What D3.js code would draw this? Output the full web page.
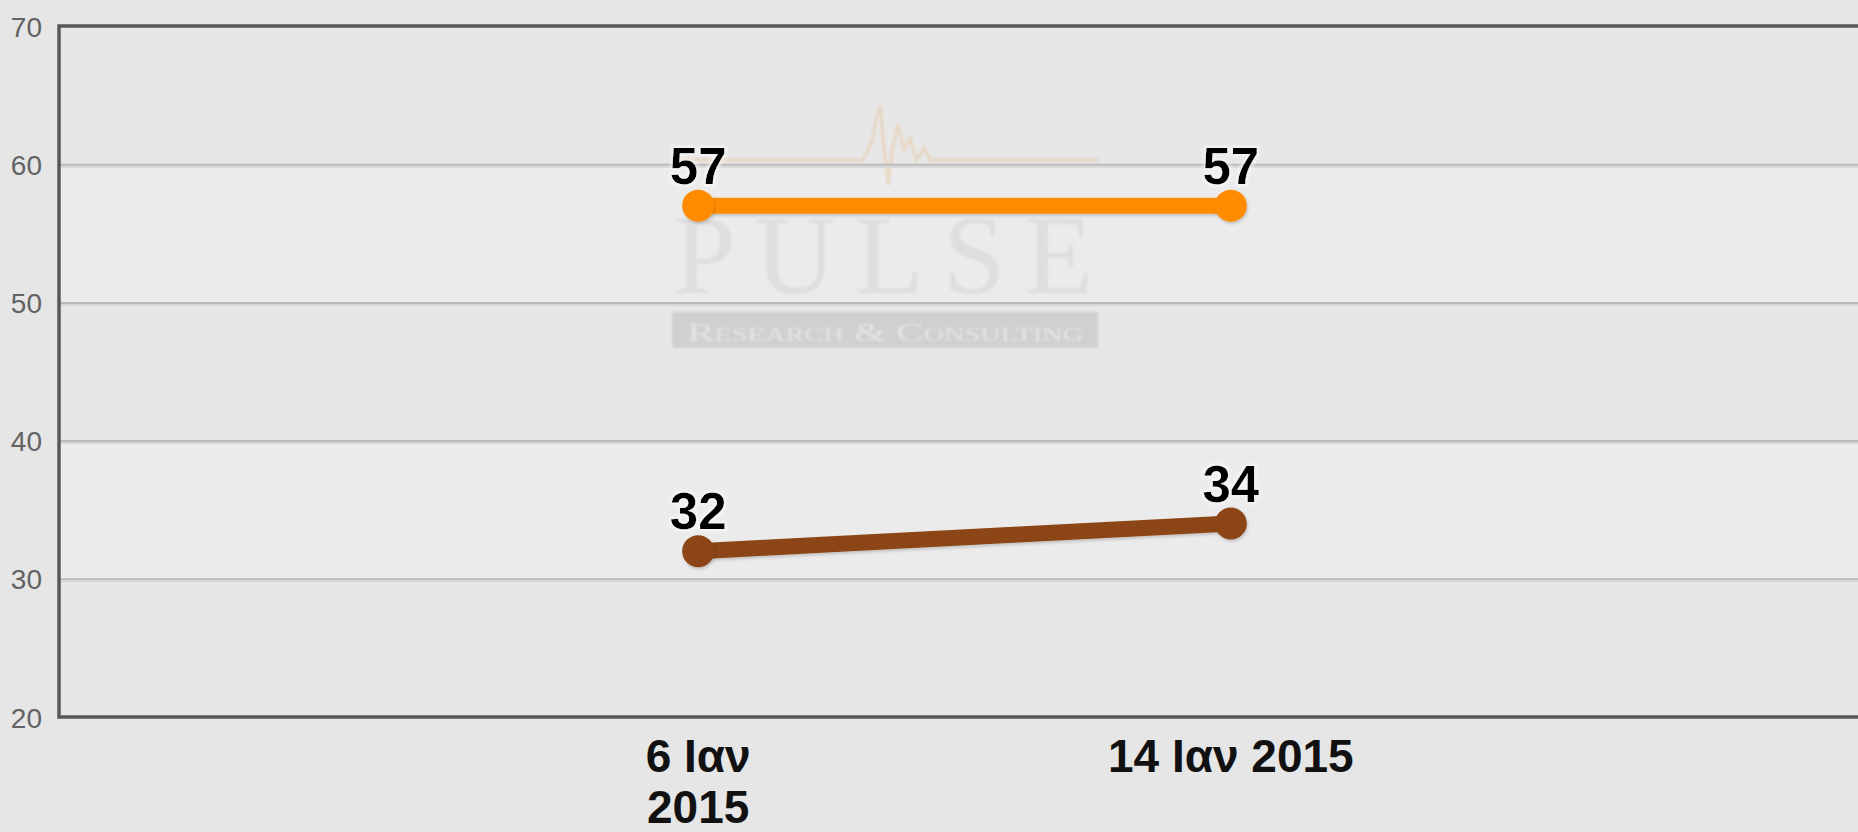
<!DOCTYPE html>
<html>
<head>
<meta charset="utf-8">
<script src="https://cdn.jsdelivr.net/npm/d3@7"></script>
<style>
  html, body { margin: 0; padding: 0; background: #e6e6e6; overflow: hidden; }
  svg { display: block; font-family: "Liberation Sans", Arial, sans-serif; }
</style>
</head>
<body>
<svg id="chart" width="1858" height="832"></svg>
<script>
// ---- data ----
const dates = ["2015-01-06", "2015-01-14"];
const xLabelLines = [["6 Ιαν", "2015"], ["14 Ιαν 2015"]];
const seriesNames = ["Σειρά Α", "Σειρά Β"];
const seriesA = [57, 57];
const seriesB = [32, 34];
const seriesColors = ["#ff8c00", "#8b4513"];
const yTicks = [20, 30, 40, 50, 60, 70];

// ---- layout ----
const W = 1858, H = 832;
const plot = { left: 59, top: 26, right: 1870, bottom: 717 };

const svg = d3.select("#chart");
const parse = d3.utcParse("%Y-%m-%d");
const dayMs = 86400000;
const d0 = parse(dates[0]), d1 = parse(dates[1]);
const x = d3.scaleUtc()
  .domain([new Date(+d0 - 9.6 * dayMs), new Date(+d1 + 9.6 * dayMs)])
  .range([plot.left, plot.right]);
const y = d3.scaleLinear().domain([20, 70]).range([plot.bottom, plot.top]);

const defs = svg.append("defs");
const sh = defs.append("filter").attr("id", "shadow").attr("filterUnits", "userSpaceOnUse")
  .attr("x", 0).attr("y", 0).attr("width", W).attr("height", H);
sh.append("feDropShadow").attr("dx", 1).attr("dy", 2).attr("stdDeviation", 1.5).attr("flood-color", "#000").attr("flood-opacity", 0.18);
const glow = defs.append("filter").attr("id", "glow").attr("filterUnits", "userSpaceOnUse")
  .attr("x", 0).attr("y", 0).attr("width", W).attr("height", H);
glow.append("feMorphology").attr("in", "SourceAlpha").attr("operator", "dilate").attr("radius", 2).attr("result", "d");
glow.append("feFlood").attr("flood-color", "#ffffff").attr("flood-opacity", 0.55);
glow.append("feComposite").attr("in2", "d").attr("operator", "in").attr("result", "g");
glow.append("feGaussianBlur").attr("in", "g").attr("stdDeviation", 1.5).attr("result", "gb");
const gm = glow.append("feMerge");
gm.append("feMergeNode").attr("in", "gb");
gm.append("feMergeNode").attr("in", "SourceGraphic");
const soft = defs.append("filter").attr("id", "soft").attr("filterUnits", "userSpaceOnUse")
  .attr("x", 0).attr("y", 0).attr("width", W).attr("height", H);
soft.append("feGaussianBlur").attr("stdDeviation", 0.8);

// background
svg.append("rect").attr("width", W).attr("height", H).attr("fill", "#e6e6e6");

// alternate bands
const bands = d3.pairs(yTicks);
svg.append("g").selectAll("rect").data(bands).join("rect")
  .attr("x", plot.left).attr("width", plot.right - plot.left)
  .attr("y", d => y(d[1])).attr("height", d => y(d[0]) - y(d[1]))
  .attr("fill", (d, i) => i % 2 === 1 ? "#ebebeb" : "#e7e7e7");

// watermark
const wm = svg.append("g").attr("class", "watermark").attr("filter", "url(#soft)");
const wmX0 = x(d0) - 26;
const pulsePts = [[0,160],[190,160],[196,150],[200,140],[204,118],[208,106],[212,150],[216,185],[220,150],[226,125],[232,150],[238,138],[244,160],[252,148],[258,160],[426,160]];
wm.append("path")
  .attr("d", d3.line()(pulsePts.map(p => [wmX0 + p[0], p[1]])))
  .attr("fill", "none").attr("stroke", "#e8b57a").attr("stroke-opacity", 0.35).attr("stroke-width", 3);
wm.append("text").attr("x", wmX0 + 1).attr("y", 293)
  .attr("font-family", "'Liberation Serif', 'Times New Roman', serif")
  .attr("font-size", 112).attr("textLength", 420).attr("lengthAdjust", "spacing")
  .attr("fill", "#dadada").attr("fill-opacity", 0.75).text("PULSE");
wm.append("rect").attr("x", wmX0).attr("y", 312).attr("width", 426).attr("height", 36).attr("fill", "#d0d0d0");
wm.append("text").attr("x", wmX0 + 213).attr("y", 341).attr("text-anchor", "middle")
  .attr("font-family", "'Liberation Serif', 'Times New Roman', serif")
  .attr("font-size", 26).attr("textLength", 396).attr("lengthAdjust", "spacingAndGlyphs")
  .attr("fill", "#e4e4e4").style("font-variant", "small-caps").text("Research & Consulting");

// grid lines
const inner = yTicks.filter(t => t > 20 && t < 70);
svg.append("g").selectAll("line").data(inner).join("line")
  .attr("x1", plot.left).attr("x2", plot.right)
  .attr("y1", d => y(d) + 0.5).attr("y2", d => y(d) + 0.5)
  .attr("stroke", "#b8b8b8").attr("stroke-width", 2);
svg.append("g").selectAll("line").data(inner).join("line")
  .attr("x1", plot.left).attr("x2", plot.right)
  .attr("y1", d => y(d) + 2.5).attr("y2", d => y(d) + 2.5)
  .attr("stroke", "#d6d6d6").attr("stroke-width", 2);

// frame (top, left, bottom)
svg.append("path")
  .attr("d", `M${plot.right},${plot.top} H${plot.left} V${plot.bottom} H${plot.right}`)
  .attr("fill", "none").attr("stroke", "#585858").attr("stroke-width", 3.5);

// y axis labels
const yAxis = d3.axisLeft(y).tickValues(yTicks).tickSize(0).tickPadding(0);
const yg = svg.append("g").attr("transform", `translate(${plot.left - 17},0)`).call(yAxis);
yg.select(".domain").remove();
yg.selectAll("text").attr("font-size", 28).attr("fill", "#636363")
  .attr("font-family", "'Liberation Sans', Arial, sans-serif").attr("dy", "0.36em");

// x axis labels
const xg = svg.append("g");
dates.forEach((dStr, i) => {
  const t = xg.append("text").attr("x", x(parse(dStr))).attr("y", 772)
    .attr("text-anchor", "middle").attr("font-size", 46).attr("font-weight", "bold").attr("fill", "#111");
  xLabelLines[i].forEach((ln, j) => {
    t.append("tspan").attr("x", x(parse(dStr))).attr("dy", j === 0 ? 0 : 51).text(ln);
  });
});

// series
const allSeries = [seriesA, seriesB];
allSeries.forEach((vals, si) => {
  const pts = vals.map((v, i) => ({ x: x(parse(dates[i])), y: y(v), v }));
  const g = svg.append("g").attr("class", "series").attr("data-name", seriesNames[si]);
  g.append("path")
    .attr("d", d3.line().x(d => d.x).y(d => d.y)(pts))
    .attr("fill", "none").attr("stroke", seriesColors[si]).attr("stroke-width", 16)
    .attr("stroke-linecap", "round").attr("filter", "url(#shadow)");
  g.selectAll("circle").data(pts).join("circle")
    .attr("cx", d => d.x).attr("cy", d => d.y).attr("r", 16)
    .attr("fill", seriesColors[si]).attr("filter", "url(#shadow)");
  g.selectAll("text").data(pts).join("text")
    .attr("x", d => d.x).attr("y", d => d.y - 22)
    .attr("text-anchor", "middle").attr("font-size", 51).attr("font-weight", "bold")
    .attr("fill", "#000").attr("filter", "url(#glow)")
    .text(d => d.v);
});
</script>
</body>
</html>
